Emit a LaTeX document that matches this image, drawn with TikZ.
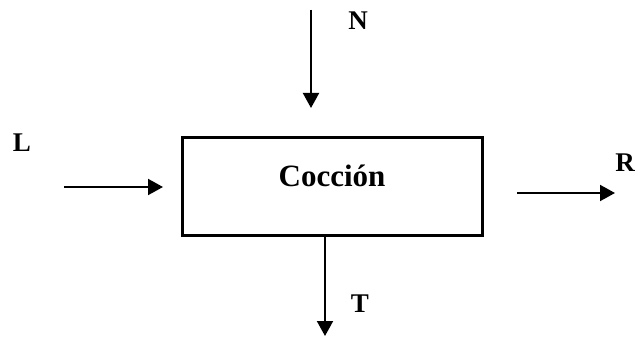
\documentclass[tikz,border=0pt]{standalone}
\usepackage{fontspec}
\setmainfont{Liberation Serif}
\usetikzlibrary{arrows.meta}
\begin{document}
\begin{tikzpicture}[x=1pt,y=1pt,
  flow/.style={line width=2pt,-{Triangle[length=15pt,width=16pt]}},
  lbl/.style={font=\fontsize{27}{31}\selectfont\bfseries,inner sep=0pt,anchor=base},
  procbox/.style={draw,line width=3pt,minimum width=300pt,minimum height=97pt,inner sep=0pt}]
\useasboundingbox (0,0) rectangle (635,338);
\node[procbox] (box) at (332,151.5) {};
\node[font=\fontsize{31}{36}\selectfont\bfseries,inner sep=0pt,anchor=base] (title) at (332,151) {Cocción};
\coordinate (ns) at (311,328);
\coordinate (ne) at (311,230);
\draw[flow] (ns) -- (ne);
\node[lbl] (nl) at (358,308) {N};
\coordinate (ls) at (64,151);
\coordinate (le) at (163,151);
\draw[flow] (ls) -- (le);
\node[lbl] (ll) at (22,186) {L};
\coordinate (rs) at (517,145);
\coordinate (re) at (615,145);
\draw[flow] (rs) -- (re);
\node[lbl] (rl) at (625,166) {R};
\coordinate (te) at (325,2);
\draw[flow] (box.south -| te) -- (te);
\node[lbl] (tl) at (360,26) {T};
\end{tikzpicture}
\end{document}
